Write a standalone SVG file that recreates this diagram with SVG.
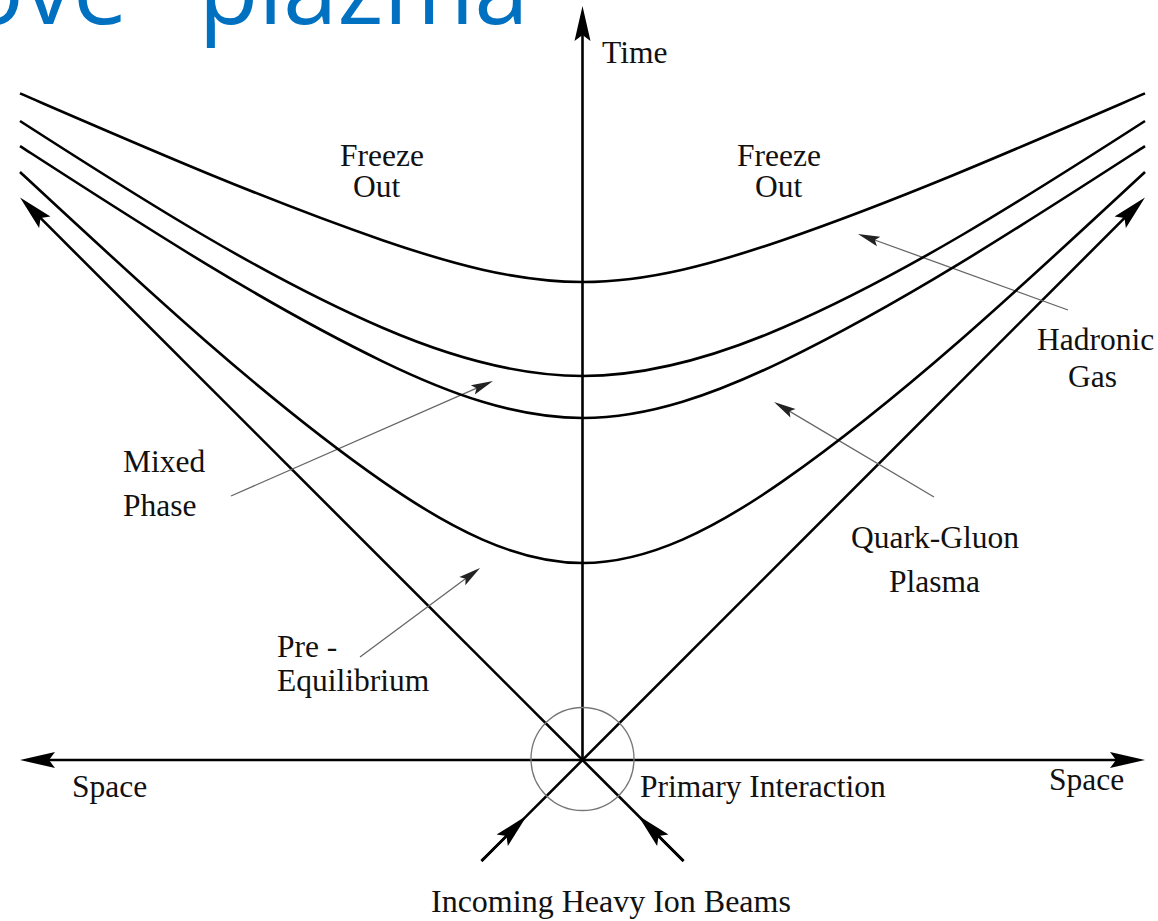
<svg xmlns="http://www.w3.org/2000/svg" width="1158" height="921" viewBox="0 0 1158 921">
<style>
.ln{fill:none;stroke:#000;stroke-width:2.6}
.cv{fill:none;stroke:#000;stroke-width:2.6}
.th{fill:none;stroke:#666;stroke-width:1.3}
.lb{font-family:"Liberation Serif","Times New Roman",serif;font-size:31.5px;fill:#111}
.ttl{font-family:"Open Sans","Noto Sans",sans-serif;font-size:98px;fill:#0070C0}
</style>
<defs>
<marker id="big" markerUnits="userSpaceOnUse" orient="auto-start-reverse" overflow="visible" markerWidth="40" markerHeight="20" refX="0" refY="0">
<path d="M10,0 L-25,-8 L-19,0 L-25,8 Z" fill="#000"/>
</marker>
<marker id="sm" markerUnits="userSpaceOnUse" orient="auto" overflow="visible" markerWidth="30" markerHeight="14" refX="0" refY="0">
<path d="M6,0 L-16,-5 L-12,0 L-16,5 Z" fill="#222"/>
</marker>
</defs>
<text class="ttl" x="-35" y="24" word-spacing="45">ove plazma</text>
<g id="connectors">
<line class="ln" x1="582.5" y1="760" x2="582.5" y2="16" marker-end="url(#big)"/>
<line class="ln" x1="30" y1="760" x2="1135" y2="760" marker-start="url(#big)" marker-end="url(#big)"/>
<line class="ln" x1="683.5" y1="861" x2="27.1" y2="204.6" marker-end="url(#big)"/>
<line class="ln" x1="481.5" y1="861" x2="1137.9" y2="204.6" marker-end="url(#big)"/>
<line class="ln" x1="481.5" y1="861" x2="519.9" y2="822.6" marker-end="url(#big)"/>
<line class="ln" x1="683.5" y1="861" x2="645.1" y2="822.6" marker-end="url(#big)"/>
<line class="th" x1="231" y1="496" x2="487.5" y2="383.4" marker-end="url(#sm)"/>
<line class="th" x1="360" y1="657" x2="475.2" y2="571.6" marker-end="url(#sm)"/>
<line class="th" x1="1068" y1="310" x2="863.6" y2="236" marker-end="url(#sm)"/>
<line class="th" x1="934" y1="497" x2="779.2" y2="405.1" marker-end="url(#sm)"/>
</g>
<g id="primary-interaction">
<circle cx="582.5" cy="759" r="51.5" fill="none" stroke="#777" stroke-width="1.3"/>
<text class="lb" x="640" y="797">Primary Interaction</text>
</g>
<g id="freeze-out-curve"><path class="cv" d="M20,93.4 C140.8,145.6 261.7,198.6 382.5,240.2 C449.2,263.1 515.8,282 582.5,282 C649.2,282 715.8,263.1 782.5,240.2 C903.3,198.6 1024.2,145.6 1145,93.4"/></g>
<g id="hadronic-curve"><path class="cv" d="M20,121 C140.8,198.8 261.7,275.6 382.5,327.8 C449.2,356.6 515.8,376 582.5,376 C649.2,376 715.8,356.6 782.5,327.8 C903.3,275.6 1024.2,198.8 1145,121"/></g>
<g id="mixed-curve"><path class="cv" d="M20,146.1 C140.8,224.1 261.7,302.8 382.5,361.3 C449.2,393.6 515.8,418 582.5,418 C649.2,418 715.8,393.6 782.5,361.3 C903.3,302.8 1024.2,224.1 1145,146.1"/></g>
<g id="qgp-curve"><path class="cv" d="M20,172 C140.8,284.1 261.7,397.2 382.5,481.4 C449.2,527.8 515.8,563 582.5,563 C649.2,563 715.8,527.8 782.5,481.4 C903.3,397.2 1024.2,284.1 1145,172"/></g>
<g id="time-label"><text class="lb" x="602" y="63">Time</text></g>
<g id="freeze-out-left"><text class="lb" x="340" y="166">Freeze</text><text class="lb" x="353" y="197">Out</text></g>
<g id="freeze-out-right"><text class="lb" x="737" y="166">Freeze</text><text class="lb" x="755" y="197">Out</text></g>
<g id="hadronic-gas"><text class="lb" x="1037" y="350">Hadronic</text><text class="lb" x="1068" y="387">Gas</text></g>
<g id="mixed-phase"><text class="lb" x="123" y="472">Mixed</text><text class="lb" x="123" y="516">Phase</text></g>
<g id="pre-equilibrium"><text class="lb" x="277" y="657">Pre -</text><text class="lb" x="277" y="691">Equilibrium</text></g>
<g id="quark-gluon-plasma"><text class="lb" x="851" y="548">Quark-Gluon</text><text class="lb" x="889" y="592">Plasma</text></g>
<g id="space-left"><text class="lb" x="72" y="797">Space</text></g>
<g id="space-right"><text class="lb" x="1049" y="790">Space</text></g>
<g id="beams"><text class="lb" x="431" y="912" style="font-size:32px">Incoming Heavy Ion Beams</text></g>
</svg>
